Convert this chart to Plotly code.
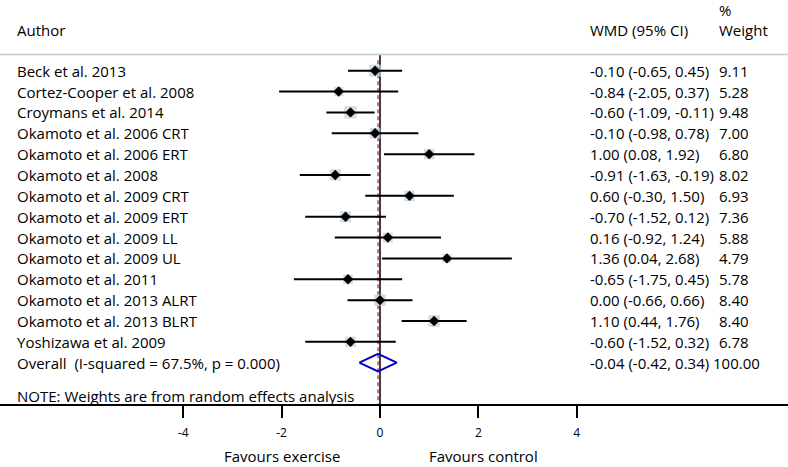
import plotly.graph_objects as go

authors = ["Beck et al. 2013", "Cortez-Cooper et al. 2008", "Croymans et al. 2014",
           "Okamoto et al. 2006 CRT", "Okamoto et al. 2006 ERT", "Okamoto et al. 2008",
           "Okamoto et al. 2009 CRT", "Okamoto et al. 2009 ERT", "Okamoto et al. 2009 LL",
           "Okamoto et al. 2009 UL", "Okamoto et al. 2011", "Okamoto et al. 2013 ALRT",
           "Okamoto et al. 2013 BLRT", "Yoshizawa et al. 2009"]
es = [-0.10, -0.84, -0.60, -0.10, 1.00, -0.91, 0.60, -0.70, 0.16, 1.36, -0.65, 0.00, 1.10, -0.60]
lo = [-0.65, -2.05, -1.09, -0.98, 0.08, -1.63, -0.30, -1.52, -0.92, 0.04, -1.75, -0.66, 0.44, -1.52]
hi = [0.45, 0.37, -0.11, 0.78, 1.92, -0.19, 1.50, 0.12, 1.24, 2.68, 0.45, 0.66, 1.76, 0.32]
weights = [9.11, 5.28, 9.48, 7.00, 6.80, 8.02, 6.93, 7.36, 5.88, 4.79, 5.78, 8.40, 8.40, 6.78]

overall_label = "Overall  (I-squared = 67.5%, p = 0.000)"
overall_es, overall_lo, overall_hi, overall_w = -0.04, -0.42, 0.34, 100.00
note = "NOTE: Weights are from random effects analysis"
tick_vals = [-4, -2, 0, 2, 4]
tick_text = ["-4", "-2", "0", "2", "4"]
side_labels = ["Favours exercise", "Favours control"]
side_x = [-2, 2.1]

FONT = "Open Sans"
n = len(authors)
rows = list(range(n))
y_over = n

fig = go.Figure()

# weight squares
fig.add_trace(go.Scatter(
    x=es, y=rows, mode="markers",
    marker=dict(symbol="square", size=[4.0 * w ** 0.5 for w in weights],
                color="#bfcddb", line=dict(width=0)),
    hoverinfo="skip", showlegend=False))

# CI lines
cx, cy = [], []
for i in rows:
    cx += [lo[i], hi[i], None]
    cy += [i, i, None]
fig.add_trace(go.Scatter(x=cx, y=cy, mode="lines",
                         line=dict(color="black", width=2),
                         hoverinfo="skip", showlegend=False))

# point estimates
fig.add_trace(go.Scatter(x=es, y=rows, mode="markers",
                         marker=dict(symbol="diamond", size=8, color="black"),
                         hoverinfo="skip", showlegend=False))

# overall diamond
h = 0.42
fig.add_trace(go.Scatter(
    x=[overall_lo, overall_es, overall_hi, overall_es, overall_lo],
    y=[y_over, y_over - h, y_over, y_over + h, y_over],
    mode="lines", line=dict(color="#0000cc", width=2),
    hoverinfo="skip", showlegend=False))

y_top_px = -3.39
y_bot = 15.98

# null line and overall dashed line
fig.add_shape(type="line", xref="x", yref="y", x0=0, x1=0, y0=-0.8, y1=y_bot,
              line=dict(color="black", width=1.5), layer="below")
fig.add_shape(type="line", xref="x", yref="y", x0=overall_es, x1=overall_es,
              y0=-0.5, y1=y_bot, line=dict(color="#b4505a", width=1.5, dash="4px,3px"),
              layer="below")
# header separator
fig.add_shape(type="line", xref="paper", yref="y", x0=0, x1=1, y0=-0.78, y1=-0.78,
              line=dict(color="#c8c8c8", width=1.5))

ann = []
tf = dict(family=FONT, size=15, color="black")
x_lab = 15 / 788
x_ci = 588 / 788
x_w = 717 / 788
ann.append(dict(x=x_lab, y=-1.95, text="Author"))
ann.append(dict(x=x_ci, y=-1.95, text="WMD (95% CI)"))
ann.append(dict(x=x_w, y=-2.91, text="%"))
ann.append(dict(x=x_w, y=-1.95, text="Weight"))
for i in rows:
    ann.append(dict(x=x_lab, y=i, text=authors[i]))
    ann.append(dict(x=x_ci, y=i, text=f"{es[i]:.2f} ({lo[i]:.2f}, {hi[i]:.2f})"))
    ann.append(dict(x=x_w, y=i, text=f"{weights[i]:.2f}"))
ann.append(dict(x=x_lab, y=y_over, text=overall_label))
ann.append(dict(x=x_ci, y=y_over, text=f"{overall_es:.2f} ({overall_lo:.2f}, {overall_hi:.2f})"))
ann.append(dict(x=711 / 788, y=y_over, text=f"{overall_w:.2f}"))
ann.append(dict(x=x_lab, y=15.6, text=note))
annotations = [dict(a, xref="paper", yref="y", xanchor="left", yanchor="middle",
                    showarrow=False, font=tf) for a in ann]
plot_h = 404
for xv, t in zip(side_x, side_labels):
    annotations.append(dict(x=xv, y=(plot_h - 467) / plot_h, xref="x", yref="paper",
                            text=t, showarrow=False, xanchor="center", yanchor="bottom",
                            borderpad=0, font=dict(family=FONT, size=15, color="black")))

ppu = 49.2
fig.update_layout(
    width=788, height=467,
    margin=dict(l=0, r=0, t=0, b=467 - plot_h),
    paper_bgcolor="white", plot_bgcolor="white",
    annotations=annotations,
    xaxis=dict(range=[-380 / ppu, (788 - 380) / ppu], tickvals=tick_vals, ticktext=tick_text,
               showgrid=False, zeroline=False, showline=True, linecolor="black", linewidth=1.5,
               ticks="outside", ticklen=12, tickwidth=1.5, tickcolor="black",
               tickfont=dict(family=FONT, size=12, color="black"), ticklabelstandoff=5),
    yaxis=dict(range=[y_bot, y_top_px], showgrid=False, zeroline=False, showline=False,
               showticklabels=False, ticks=""),
)
fig.write_html("out.html", config={"displayModeBar": False},
               post_script="document.body.style.margin='0px';document.body.style.overflow='hidden';")
